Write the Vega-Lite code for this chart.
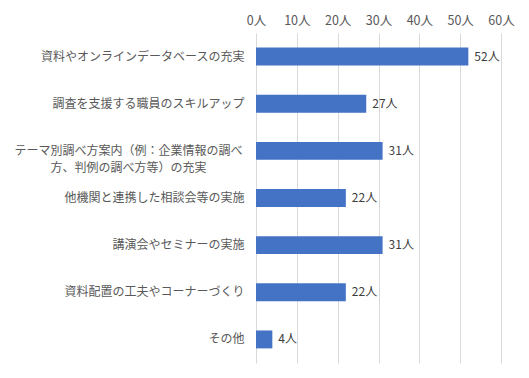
{
  "$schema": "https://vega.github.io/schema/vega-lite/v6.json",
  "autosize": "none",
  "width": 245,
  "height": 330,
  "padding": {"left": 256, "top": 33, "right": 28, "bottom": 15},
  "background": "white",
  "config": {
    "view": {"stroke": null},
    "font": "Noto Sans CJK JP",
    "axis": {"labelFont": "Noto Sans CJK JP", "labelFontSize": 12, "labelColor": "#595959"}
  },
  "data": {
    "values": [
      {"item": "資料やオンラインデータベースの充実", "count": 52, "label": "52人"},
      {"item": "調査を支援する職員のスキルアップ", "count": 27, "label": "27人"},
      {"item": "テーマ別調べ方案内（例：企業情報の調べ\n方、判例の調べ方等）の充実", "count": 31, "label": "31人"},
      {"item": "他機関と連携した相談会等の実施", "count": 22, "label": "22人"},
      {"item": "講演会やセミナーの実施", "count": 31, "label": "31人"},
      {"item": "資料配置の工夫やコーナーづくり", "count": 22, "label": "22人"},
      {"item": "その他", "count": 4, "label": "4人"}
    ]
  },
  "encoding": {
    "y": {
      "field": "item",
      "type": "nominal",
      "sort": null,
      "scale": {"paddingInner": 0.62, "paddingOuter": 0.31},
      "axis": {
        "title": null,
        "domain": false,
        "ticks": false,
        "labelLimit": 300,
        "labelExpr": "split(datum.label, '\\n')",
        "labelLineHeight": 17,
        "labelAlign": {"condition": {"test": "indexof(datum.value, '方等') >= 0", "value": "center"}, "value": "right"},
        "labelPadding": {"condition": {"test": "indexof(datum.value, '方等') >= 0", "value": 128}, "value": 12}
      }
    },
    "x": {
      "field": "count",
      "type": "quantitative",
      "scale": {"domain": [0, 60]},
      "axis": {
        "orient": "top",
        "title": null,
        "values": [0, 10, 20, 30, 40, 50, 60],
        "labelExpr": "datum.value + '人'",
        "labelFontSize": 12.5,
        "labelFlush": false,
        "labelOverlap": false,
        "domain": false,
        "ticks": false,
        "labelPadding": 6,
        "gridColor": "#d9d9d9",
        "gridWidth": 1
      }
    }
  },
  "layer": [
    {"mark": {"type": "bar", "color": "#4472C4"}},
    {
      "mark": {"type": "text", "align": "left", "dx": 6, "fontSize": 12, "color": "#404040", "font": "Noto Sans CJK JP"},
      "encoding": {"text": {"field": "label", "type": "nominal"}}
    }
  ]
}
